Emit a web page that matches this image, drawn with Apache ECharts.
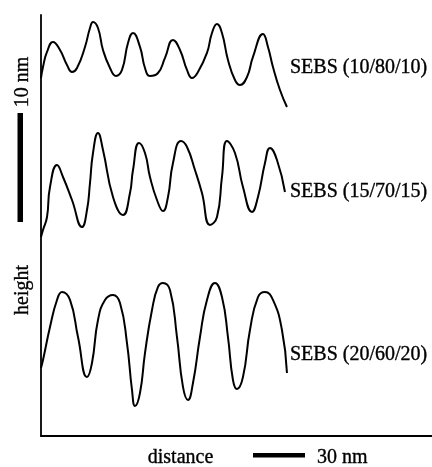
<!DOCTYPE html>
<html>
<head>
<meta charset="utf-8">
<script src="https://cdn.jsdelivr.net/npm/echarts@6/dist/echarts.min.js"></script>
<style>
html,body{margin:0;padding:0;background:#fff;}
#chart{width:432px;height:467px;}
</style>
</head>
<body>
<div id="chart"></div>
<script>
// distance (nm) and height (nm) of the three profiles
var seriesNames = ['SEBS (10/80/10)', 'SEBS (15/70/15)', 'SEBS (20/60/20)'];

var dist1 = [0,1.15,3.46,6.92,10.96,15.0,17.88,20.77,25.38,28.27,30.0,32.88,35.77,39.81,43.27,46.73,50.19,53.08,57.11,60.0,62.88,67.5,71.54,76.15,80.19,84.23,87.11,90.57,95.76,98.65,101.54,104.42,107.88,111.92,114.8,118.84,122.3,128.07,130.96,133.84,137.88,141.92];
var height1 = [32.84,33.85,35.23,36.15,35.41,34.04,33.39,33.76,35.69,37.43,37.98,37.43,35.41,33.76,33.03,33.58,36.05,36.97,35.69,33.76,33.03,33.30,34.68,36.33,35.41,33.58,32.84,33.39,35.14,36.97,37.80,36.97,34.49,32.66,32.20,32.93,34.77,36.88,35.69,33.85,31.74,30.18];

var dist2 = [0,1.15,3.46,5.19,9.23,12.69,17.88,23.65,26.54,28.27,30.0,32.88,35.77,41.54,47.31,51.34,53.08,56.54,60.0,62.88,66.92,70.38,73.27,76.15,80.77,84.23,88.84,92.88,97.5,101.54,104.42,107.3,111.92,116.53,121.73,125.19,129.23,132.11,136.15,140.76];
var height2 = [18.26,18.90,20.09,22.84,24.86,23.76,21.65,19.17,20.73,23.21,25.96,27.80,26.24,21.93,20.27,22.29,24.40,26.88,25.96,23.76,21.65,20.64,21.93,25.05,27.06,26.51,24.40,22.29,19.36,20.09,23.76,27.06,25.96,22.84,20.55,21.93,25.05,26.42,25.32,22.38];

var dist3 = [0,1.15,5.19,9.23,12.11,16.73,21.35,26.54,29.42,32.88,36.92,41.54,45.58,49.61,52.5,54.23,57.11,60.0,64.04,67.5,70.38,74.42,78.46,81.92,84.8,87.69,91.73,95.76,100.38,104.42,107.88,110.76,113.07,116.53,120.57,125.19,129.23,133.84,139.03,141.92];
var height3 = [6.24,6.97,10.0,12.48,13.21,12.48,9.08,5.41,6.70,10.64,12.48,12.94,12.20,8.53,4.22,2.75,3.94,7.61,11.56,13.67,14.04,13.39,9.08,4.50,3.30,4.86,9.08,12.48,14.04,12.75,9.08,5.14,4.31,5.41,9.72,12.75,13.21,12.48,9.72,5.78];

var xMax = 225.6, yMax = 38.62;
var axisLabels = { y: 'height', x: 'distance', yBar: '10 nm', xBar: '30 nm' };

function pairs(xs, ys) { return xs.map(function (x, i) { return [x, ys[i]]; }); }

var font = '"Liberation Serif", "Times New Roman", serif';
var chart = echarts.init(document.getElementById('chart'), null, { renderer: 'canvas' });

var lineStyle = { color: '#000', width: 2 };
var series = [[dist1, height1], [dist2, height2], [dist3, height3]].map(function (d, i) {
  return {
    name: seriesNames[i], type: 'line', data: pairs(d[0], d[1]),
    smooth: 0.5, showSymbol: false, lineStyle: lineStyle, silent: true, animation: false
  };
});

var textStyleBase = { fill: '#000', fontFamily: font, fontSize: 20, stroke: '#000', lineWidth: 0.35 };
function txt(s, x, y, opt) {
  var st = Object.assign({ text: s }, textStyleBase, opt && opt.style);
  return Object.assign({ type: 'text', x: x, y: y, style: st, silent: true }, opt && opt.extra);
}

chart.setOption({
  animation: false,
  backgroundColor: '#fff',
  grid: { left: 41, right: 0, top: 15, bottom: 31 },
  xAxis: {
    type: 'value', min: 0, max: xMax,
    axisLine: { show: true, lineStyle: { color: '#000', width: 1.8 } },
    axisTick: { show: false }, axisLabel: { show: false }, splitLine: { show: false }
  },
  yAxis: {
    type: 'value', min: 0, max: yMax,
    axisLine: { show: true, lineStyle: { color: '#000', width: 1.8 } },
    axisTick: { show: false }, axisLabel: { show: false }, splitLine: { show: false }
  },
  series: series,
  graphic: [
    txt(seriesNames[0], 290, 68, { style: { verticalAlign: 'middle', align: 'left' } }),
    txt(seriesNames[1], 290, 192, { style: { verticalAlign: 'middle', align: 'left' } }),
    txt(seriesNames[2], 290, 355, { style: { verticalAlign: 'middle', align: 'left' } }),
    { type: 'rect', shape: { x: 17.5, y: 113, width: 5.5, height: 109 }, style: { fill: '#000' }, silent: true },
    txt(axisLabels.yBar, 23, 82, { style: { verticalAlign: 'middle', align: 'center' }, extra: { rotation: Math.PI / 2 } }),
    txt(axisLabels.y, 23, 290, { style: { verticalAlign: 'middle', align: 'center' }, extra: { rotation: Math.PI / 2 } }),
    txt(axisLabels.x, 180.5, 458, { style: { verticalAlign: 'middle', align: 'center' } }),
    { type: 'rect', shape: { x: 253, y: 453, width: 52, height: 4.5 }, style: { fill: '#000' }, silent: true },
    txt(axisLabels.xBar, 317, 458, { style: { verticalAlign: 'middle', align: 'left' } })
  ]
});
</script>
</body>
</html>
